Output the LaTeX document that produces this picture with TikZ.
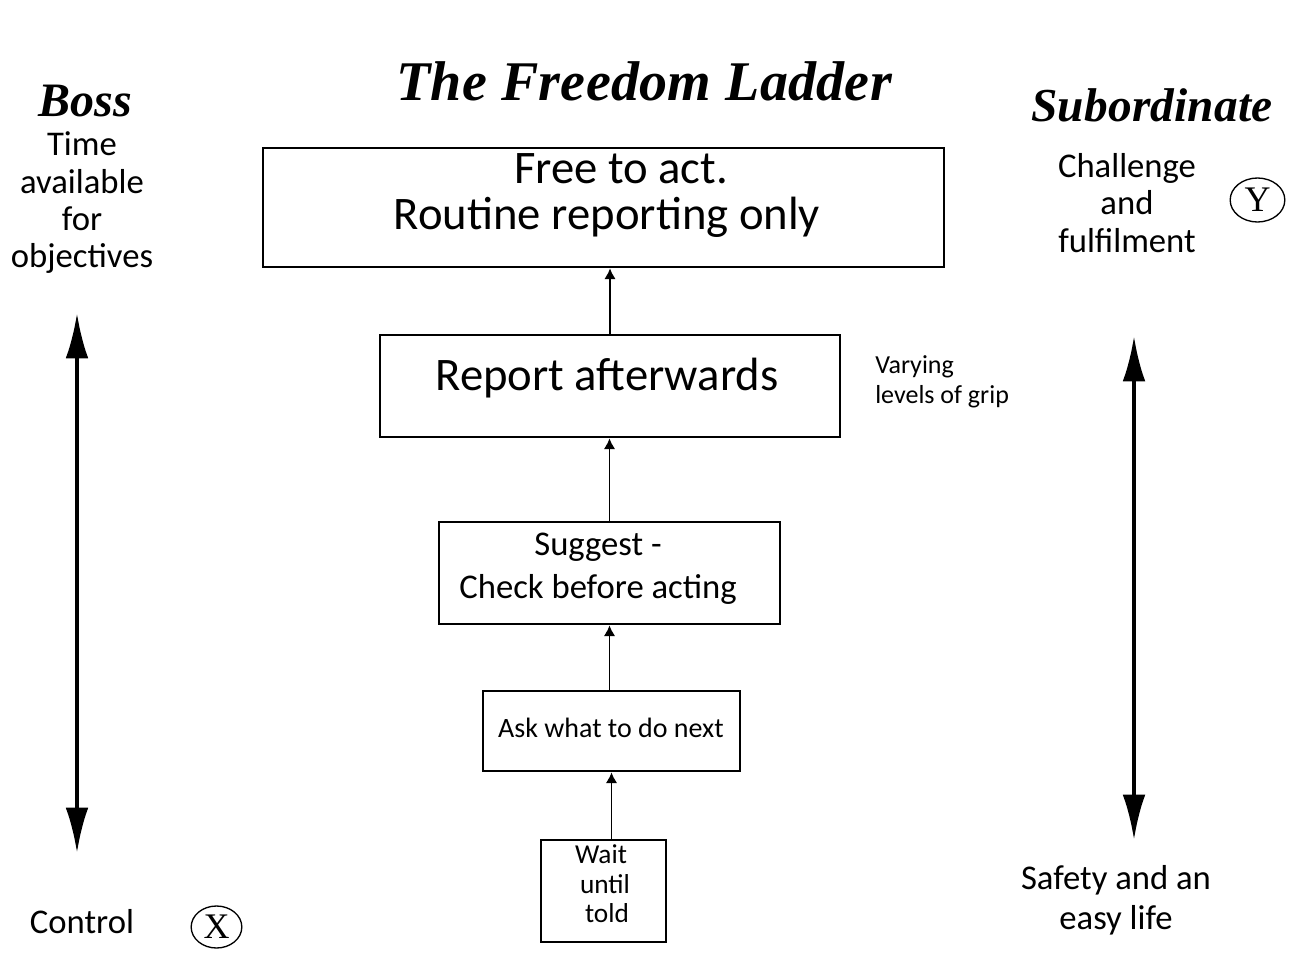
\documentclass[tikz,border=0pt]{standalone}
\usepackage{fontspec}
\setmainfont{Carlito}
\newfontfamily\titlefont[LetterSpace=0.5]{Liberation Serif}
\newfontfamily\bossfont{Liberation Serif}
\newfontfamily\markfont{Liberation Serif}
\usetikzlibrary{arrows.meta,shapes.geometric}

\tikzset{
  rung/.style 2 args={draw,line width=1pt,minimum width=#1,minimum height=#2,inner sep=0pt},
  heading/.style={font=\titlefont\bfseries\itshape\fontsize{#1}{#1}\selectfont,inner sep=0pt},
  side/.style={align=center,inner sep=0pt,font=\fontsize{26}{28}\selectfont},
  step arrow/.style={line width=1.3pt,-{Latex[length=8pt,width=8.5pt]},shorten >=0.5pt},
  big arrow/.style={line width=3pt,{Latex[length=34pt,width=17pt]}-{Latex[length=34pt,width=17pt]}},
  xymark/.style={ellipse,draw,line width=1pt,inner sep=0pt,font=\markfont\fontsize{27}{27}\selectfont}
}

\begin{document}
\begin{tikzpicture}[x=0.75pt,y=-0.75pt]
\useasboundingbox (0,0) rectangle (1306,956);

% headings
\node[heading=42] (ladder) at (644,81) {The Freedom Ladder};
\node[heading=36,font=\bossfont\bfseries\itshape\fontsize{36}{36}\selectfont] (boss) at (85,101) {Boss};
\node[heading=35.5] (sub) at (1152,105) {Subordinate};

% the rungs of the ladder
\node[rung={510.75pt}{89.25pt}] (act) at (603.5,207.5) {};
\node[rung={345pt}{76.5pt}] (after) at (610,386) {};
\node[rung={255.75pt}{76.5pt}] (suggest) at (609.5,573) {};
\node[rung={192.75pt}{60pt}] (ask) at (611.5,731) {};
\node[rung={93.75pt}{76.5pt}] (wait) at (603.5,891) {};

\node[align=center,inner sep=0pt,font=\fontsize{35}{34.5}\selectfont] (actText) at (607,196) {\hspace*{21pt}Free to act.\\Routine reporting only};
\node[inner sep=0pt,font=\fontsize{35}{35}\selectfont] (afterText) at (607,378) {Report afterwards};
\node[align=center,inner sep=0pt,font=\fontsize{26}{32}\selectfont] (suggestText) at (598,569) {Suggest -\\Check before acting};
\node[inner sep=0pt,font=\fontsize{21}{24}\selectfont] (askText) at (611,728) {Ask what to do next};
\node[align=center,inner sep=0pt,font=\fontsize{20.5}{22}\selectfont] (waitText) at (605,884) {Wait\hspace*{6pt}\\until\\\hspace*{3pt}told};

\draw[step arrow] (wait.north -| ask) -- (ask.south);
\draw[step arrow] (ask.north -| suggest) -- (suggest.south);
\draw[step arrow] (suggest.north) -- (suggest.north |- after.south);
\draw[step arrow] (after.north) -- (after.north |- act.south);

\node[anchor=west,align=left,inner sep=0pt,font=\fontsize{19.5}{22.5}\selectfont] (grip) at (875,382) {Varying\\levels of grip};

% boss side
\node[side] (time) at (82,203) {Time\\available\\for\\objectives};
\coordinate (bossTop) at (77,313);
\coordinate (bossBot) at (77,853);
\draw[big arrow] (bossTop) -- (bossBot);
\node[side] (control) at (82,922) {Control};
\node[xymark,minimum width=38pt,minimum height=31.5pt] (x) at (216.5,927) {X};

% subordinate side
\node[side] (challenge) at (1127,203) {Challenge\\and\\fulfilment};
\node[xymark,minimum width=41pt,minimum height=33pt] (y) at (1257.5,200) {Y};
\coordinate (subTop) at (1134,336);
\coordinate (subBot) at (1134,840);
\draw[big arrow] (subTop) -- (subBot);
\node[side,font=\fontsize{26}{30}\selectfont] (safety) at (1116,900) {Safety and an\\easy life};
\end{tikzpicture}
\end{document}
